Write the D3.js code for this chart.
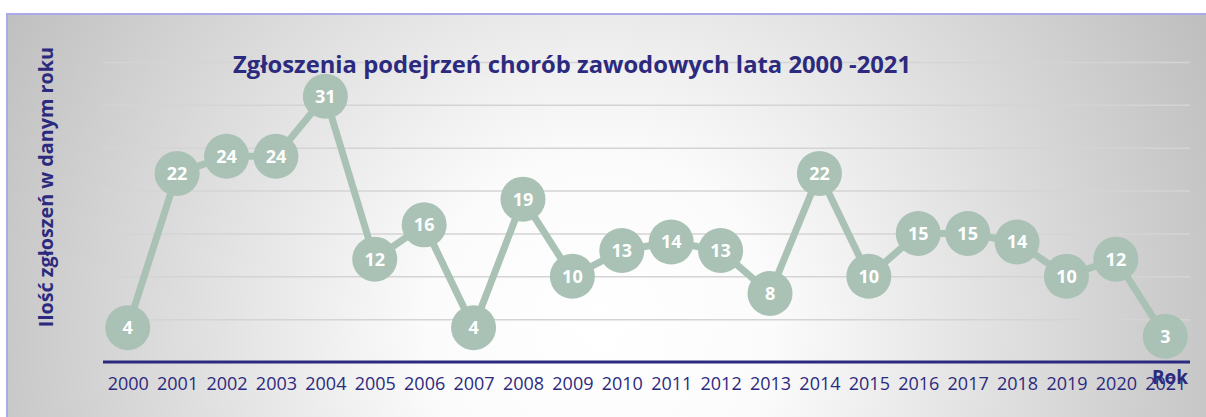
<!DOCTYPE html>
<html>
<head>
<meta charset="utf-8">
<script src="https://cdn.jsdelivr.net/npm/d3@7"></script>
<style>
  html, body { margin: 0; padding: 0; background: #fff; }
  svg { display: block; font-family: "Open Sans", sans-serif; }
  .y.grid .domain { display: none; }
  .x.axis .domain { display: none; }
</style>
</head>
<body>
<div id="chart"></div>
<script>
// Chart data
var YEARS = ["2000", "2001", "2002", "2003", "2004", "2005", "2006", "2007", "2008", "2009", "2010",
  "2011", "2012", "2013", "2014", "2015", "2016", "2017", "2018", "2019", "2020", "2021"];
var COUNTS = [4, 22, 24, 24, 31, 12, 16, 4, 19, 10, 13, 14, 13, 8, 22, 10, 15, 15, 14, 10, 12, 3];
var Y_TICKS = [5, 10, 15, 20, 25, 30, 35];

var TITLE = "Zgłoszenia podejrzeń chorób zawodowych lata 2000 -2021";
var Y_LABEL = "Ilość zgłoszeń w danym roku";
var X_LABEL = "Rok";

var TEXT_COLOR = "#2c2a7e";
var MARK_COLOR = "#a9c2b5";

var width = 1206;
var height = 417;
var plot = { left: 103, right: 1190, top: 62, bottom: 362 };

var svg = d3.select("#chart")
  .append("svg")
  .attr("width", width)
  .attr("height", height);

var defs = svg.append("defs");

// background gradient (light centre, grey corners)
var bg = defs.append("radialGradient")
  .attr("id", "bg")
  .attr("gradientUnits", "userSpaceOnUse")
  .attr("cx", 600).attr("cy", 330).attr("r", 700);
bg.append("stop").attr("offset", "0").attr("stop-color", "#ffffff");
bg.append("stop").attr("offset", "0.25").attr("stop-color", "#fbfbfb");
bg.append("stop").attr("offset", "1").attr("stop-color", "#bcbcbc");

// gridlines get darker toward the bottom
var gridGrad = defs.append("linearGradient")
  .attr("id", "gridGrad")
  .attr("gradientUnits", "userSpaceOnUse")
  .attr("x1", 0).attr("x2", 0)
  .attr("y1", plot.top).attr("y2", plot.bottom);
gridGrad.append("stop").attr("offset", "0").attr("stop-color", "#d4d4d4");
gridGrad.append("stop").attr("offset", "1").attr("stop-color", "#857f99");

svg.append("rect")
  .attr("x", 7)
  .attr("y", 14)
  .attr("width", width + 10)
  .attr("height", height + 10)
  .attr("fill", "url(#bg)")
  .attr("stroke", "#aaaaea")
  .attr("stroke-width", 2);

// Scales
var xScale = d3.scalePoint()
  .domain(YEARS)
  .range([plot.left, plot.right])
  .padding(0.5);

var yScale = d3.scaleLinear()
  .domain([0, 35])
  .range([plot.bottom, plot.top]);

// Grid
var grid = svg.append("g")
  .attr("class", "y grid")
  .attr("transform", "translate(" + plot.left + ",0)")
  .call(d3.axisLeft(yScale)
    .tickValues(Y_TICKS)
    .tickSize(-(plot.right - plot.left))
    .tickFormat(""));

grid.selectAll(".tick line")
  .attr("stroke", "url(#gridGrad)")
  .attr("stroke-width", 1.5);

// X axis
var xAxis = svg.append("g")
  .attr("class", "x axis")
  .attr("transform", "translate(0," + plot.bottom + ")")
  .call(d3.axisBottom(xScale).tickSize(0).tickPadding(15));

xAxis.selectAll("text")
  .attr("fill", TEXT_COLOR)
  .style("font-size", "18px")
  .style("font-family", "'Open Sans', sans-serif");

svg.append("line")
  .attr("x1", plot.left)
  .attr("x2", plot.right)
  .attr("y1", yScale(0))
  .attr("y2", yScale(0))
  .attr("stroke", TEXT_COLOR)
  .attr("stroke-width", 3);

// Line + markers
var points = YEARS.map(function(y, i) { return { year: y, value: COUNTS[i] }; });

var line = d3.line()
  .x(function(d) { return xScale(d.year); })
  .y(function(d) { return yScale(d.value); });

svg.append("path")
  .datum(points)
  .attr("d", line)
  .attr("fill", "none")
  .attr("stroke", MARK_COLOR)
  .attr("stroke-width", 7)
  .attr("stroke-linejoin", "round");

var markers = svg.append("g")
  .selectAll("g")
  .data(points)
  .enter()
  .append("g")
  .attr("transform", function(d) {
    return "translate(" + xScale(d.year) + "," + yScale(d.value) + ")";
  });

markers.append("circle")
  .attr("r", 22.5)
  .attr("fill", MARK_COLOR);

markers.append("text")
  .attr("text-anchor", "middle")
  .attr("dy", "0.36em")
  .attr("fill", "#ffffff")
  .style("font-size", "18px")
  .style("font-weight", "bold")
  .text(function(d) { return d.value; });

// Titles
svg.append("text")
  .attr("x", 233)
  .attr("y", 73)
  .attr("fill", TEXT_COLOR)
  .style("font-size", "23.8px")
  .style("font-weight", "bold")
  .text(TITLE);

svg.append("text")
  .attr("transform", "translate(53,187) rotate(-90)")
  .attr("text-anchor", "middle")
  .attr("fill", TEXT_COLOR)
  .style("font-size", "19.8px")
  .style("font-weight", "bold")
  .text(Y_LABEL);

svg.append("text")
  .attr("x", 1188)
  .attr("y", 384)
  .attr("text-anchor", "end")
  .attr("fill", TEXT_COLOR)
  .style("font-size", "19px")
  .style("font-weight", "bold")
  .text(X_LABEL);
</script>
</body>
</html>
